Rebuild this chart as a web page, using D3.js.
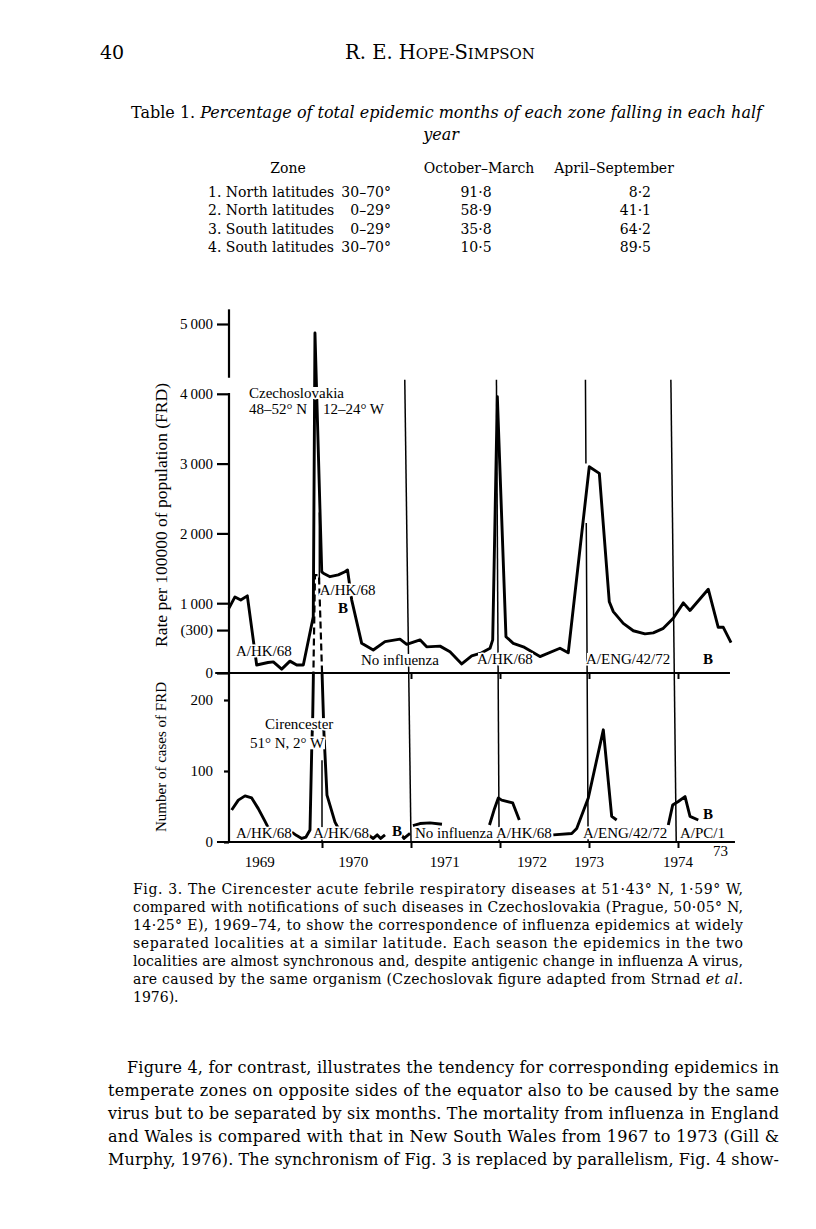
<!DOCTYPE html>
<html>
<head>
<meta charset="utf-8">
<script src="https://cdn.jsdelivr.net/npm/d3@7"></script>
<style>
body { margin: 0; background: #fff; }
svg text { fill: #000; }
.pg { font-family: "DejaVu Serif", serif; }
.ch { font-family: "Liberation Serif", "Times New Roman", serif; }
.halo { paint-order: stroke; stroke: #fff; stroke-width: 3px; stroke-linejoin: round; }
</style>
</head>
<body>
<div id="page"></div>
<script>
// ---- data ----
// Czechoslovakia, rate per 100000 (time in years)
var czechTime = [1968.955,1969.022,1969.087,1969.161,1969.266,1969.393,1969.453,1969.547,1969.640,1969.716,
	1969.790,1969.902,1969.921,1969.997,1970.015,1970.090,1970.183,1970.258,1970.287,1970.334,
	1970.446,1970.576,1970.708,1970.876,1970.952,1971.101,1971.176,1971.326,1971.438,1971.570,
	1971.682,1971.794,1971.888,1971.918,1971.970,1972.067,1972.149,1972.262,1972.449,1972.674,
	1972.767,1973.003,1973.116,1973.228,1973.273,1973.385,1973.498,1973.629,1973.722,1973.835,
	1973.947,1974.060,1974.135,1974.340,1974.452,1974.509,1974.596]
var czechRate = [930,1090,1045,1105,115,150,160,55,170,115,
	115,805,4870,1450,1430,1380,1405,1450,1475,1045,
	425,330,450,485,410,475,375,385,305,130,
	245,290,355,475,3960,520,425,375,235,355,
	290,2955,2860,1020,880,710,605,560,575,640,
	785,1005,895,1200,655,655,435]

// Cirencester, number of cases (null = break in the drawn line)
var cirTime = [1968.985,1969.060,1969.135,1969.210,1969.284,1969.360,1969.404,null,
	1969.660,1969.716,1969.772,1969.820,1969.865,1969.884,1969.896,1969.921,1969.966,1970.022,1970.056,1970.146,1970.180,null,
	1970.520,1970.576,1970.621,1970.660,1970.708,null,
	1970.884,1970.921,1970.989,null,
	1971.022,1971.101,1971.213,1971.348,null,
	1971.882,1971.933,1971.981,1972.019,1972.143,1972.217,null,
	1972.599,1972.806,1972.862,1972.992,1973.161,1973.255,1973.311,null,
	1973.891,1973.940,1974.003,1974.079,1974.135,1974.228]
var cirCases = [45,59,65,62,47,29,18,null,
	14,9,5,7,17,127,179,376,376,153,66,28,20,null,
	10,5,10,5,10,null,
	12,5,12,null,
	23,26,27,25,null,
	24,45,62,59,55,31,null,
	10,12,19,62,158,36,31,null,
	24,52,57,64,36,31]

var topTicks = [0, 615, 1000, 2000, 3000, 4000, 5000]
var topTickLabels = ['0', '(300)', '1\u2009000', '2\u2009000', '3\u2009000', '4\u2009000', '5\u2009000']
var botTicks = [0, 100, 200]
var yearTicks = [1970, 1971, 1972, 1973, 1974]
var yearLabels = ['1969', '1970', '1971', '1972', '1973', '1974']
var yearLabelAt = [1969.30, 1970.35, 1971.38, 1972.36, 1973.0, 1974.0]

// epidemic marker lines: time at top / at bottom
var refTop = [1970.93, 1971.96, 1972.96, 1973.92]
var refBottom = [1971.0, 1971.99, 1972.99, 1973.98]

var topNoteText = ['Czechoslovakia', '48\u201352\u00b0 N', '12\u201324\u00b0 W', 'A/HK/68', 'B', 'A/HK/68', 'No influenza', 'A/HK/68', 'A/ENG/42/72', 'B']
var topNoteTime = [1969.18, 1969.18, 1970.01, 1969.975, 1970.18, 1969.034, 1970.438, 1971.742, 1972.966, 1974.28]
var topNoteRate = [3940, 3710, 3710, 1120, 860, 245, 115, 130, 130, 130]

var botNoteText = ['Cirencester', '51\u00b0 N, 2\u00b0 W', 'A/HK/68', 'A/HK/68', 'B', 'No influenza', 'A/HK/68', 'A/ENG/42/72', 'A/PC/1', 'B', '73']
var botNoteTime = [1969.36, 1969.19, 1969.034, 1969.90, 1970.787, 1971.045, 1971.955, 1972.933, 1974.022, 1974.28, 1974.393]
var botNoteCases = [159, 132, 5.5, 5.5, 8.5, 5.5, 5.5, 5.5, 5.5, 32, -20]

var zones = ['North latitudes', 'North latitudes', 'South latitudes', 'South latitudes']
var zoneRange = ['30\u201370\u00b0', '0\u201329\u00b0', '0\u201329\u00b0', '30\u201370\u00b0']
var octMar = [91.8, 58.9, 35.8, 10.5]
var aprSep = [8.2, 41.1, 64.2, 89.5]

var captionLines = [
	'Fig. 3. The Cirencester acute febrile respiratory diseases at 51\u00b743\u00b0 N, 1\u00b759\u00b0 W,',
	'compared with notifications of such diseases in Czechoslovakia (Prague, 50\u00b705\u00b0 N,',
	'14\u00b725\u00b0 E), 1969\u201374, to show the correspondence of influenza epidemics at widely',
	'separated localities at a similar latitude. Each season the epidemics in the two',
	'localities are almost synchronous and, despite antigenic change in influenza A virus,',
	'are caused by the same organism (Czechoslovak figure adapted from Strnad *et al.*',
	'1976).'
]
var bodyLines = [
	'Figure 4, for contrast, illustrates the tendency for corresponding epidemics in',
	'temperate zones on opposite sides of the equator also to be caused by the same',
	'virus but to be separated by six months. The mortality from influenza in England',
	'and Wales is compared with that in New South Wales from 1967 to 1973 (Gill &',
	'Murphy, 1976). The synchronism of Fig. 3 is replaced by parallelism, Fig. 4 show-'
]

var width = 816
var height = 1229

var svg = d3.select('#page')
	.append('svg')
	.attr('width', width)
	.attr('height', height)
	.attr('viewBox', [0, 0, width, height])

// one line of page text, '*' toggles italic
function addLine(s, x0, y0, size, len, anchor) {
	var t = svg.append('text')
		.attr('class', 'pg')
		.attr('x', x0)
		.attr('y', y0)
		.style('font-size', size + 'px')
	if (len) t.attr('textLength', len).attr('lengthAdjust', 'spacing')
	if (anchor) t.attr('text-anchor', anchor)
	s.split('*').forEach(function(part, i) {
		if (!part) return
		t.append('tspan').style('font-style', i % 2 ? 'italic' : 'normal').text(part)
	})
	return t
}

// ---- running head ----
addLine('40', 100, 59, 19)
var head = svg.append('text')
	.attr('class', 'pg')
	.attr('x', 440)
	.attr('y', 59)
	.attr('text-anchor', 'middle')
;[['R. E. H', 19.5], ['OPE-', 15], ['S', 19.5], ['IMPSON', 15]].forEach(function(p) {
	head.append('tspan').style('font-size', p[1] + 'px').text(p[0])
})

// ---- table 1 ----
addLine('Table 1. *Percentage of total epidemic months of each zone falling in each half*', 131, 118, 16, 631)
addLine('*year*', 441, 140, 16, null, 'middle')
addLine('Zone', 288, 173, 14, null, 'middle')
addLine('October\u2013March', 479, 173, 14, null, 'middle')
addLine('April\u2013September', 614, 173, 14, null, 'middle')

var fmt = function(v) { return d3.format('.1f')(v).replace('.', '\u00b7') }
var rowY = d3.scalePoint().domain(d3.range(zones.length)).range([197, 252])
zones.forEach(function(z, i) {
	addLine((i + 1) + '. ' + z, 208, rowY(i), 14)
	addLine(zoneRange[i], 391, rowY(i), 14, null, 'end')
	addLine(fmt(octMar[i]), 476, rowY(i), 14, null, 'middle')
	addLine(fmt(aprSep[i]), 651, rowY(i), 14, null, 'end')
})

// ---- figure ----
var x = d3.scaleLinear().domain([1970, 1974]).range([322, 678])
var yTop = d3.scaleLinear().domain([0, 5000]).range([673, 324])
var yBot = d3.scaleLinear().domain([0, 200]).range([842, 700])
var ink = '#000'

var fig = svg.append('g')

// marker lines first, the curves go over them
refTop.forEach(function(t, i) {
	var x1 = x(t), y1 = yTop(4200), x2 = x(refBottom[i]), y2 = yBot(0)
	var ln = fig.append('line')
		.attr('x1', x1).attr('y1', y1).attr('x2', x2).attr('y2', y2)
		.style('stroke', ink).style('stroke-width', 1.5)
	if (t > 1972.5 && t < 1973.5) {
		// gap where the 1973 curve rises
		var L = Math.hypot(x2 - x1, y2 - y1)
		var a = yTop(3000) - y1, b = yTop(2150) - y1
		ln.attr('stroke-dasharray', a + ',' + (b - a) + ',' + L)
	}
})
// the short marker pieces at the 1969/70 peak
fig.append('line')
	.attr('x1', x(1969.97)).attr('x2', x(1969.97))
	.attr('y1', yTop(2300)).attr('y2', yTop(1330))
	.style('stroke', ink).style('stroke-width', 1.5)
fig.append('line')
	.attr('x1', x(1970.0)).attr('x2', x(1970.0))
	.attr('y1', yBot(115)).attr('y2', yBot(0))
	.style('stroke', ink).style('stroke-width', 1.5)

// axes
fig.append('line')
	.attr('x1', 229).attr('x2', 229)
	.attr('y1', yTop(5210)).attr('y2', yTop(4230))
	.style('stroke', ink).style('stroke-width', 2.2)
fig.append('line')
	.attr('x1', 229).attr('x2', 229)
	.attr('y1', yTop(4010)).attr('y2', yBot(0))
	.style('stroke', ink).style('stroke-width', 2.2)

var axTop = fig.append('g')
	.attr('transform', 'translate(229,0)')
	.call(d3.axisLeft(yTop).tickValues(topTicks).tickSize(12).tickPadding(4)
		.tickFormat(function(d, i) { return topTickLabels[i] }))
var axBot = fig.append('g')
	.attr('transform', 'translate(229,0)')
	.call(d3.axisLeft(yBot).tickValues(botTicks).tickSize(5).tickPadding(11))
;[axTop, axBot].forEach(function(a) {
	a.select('.domain').remove()
	a.selectAll('line').style('stroke', ink).style('stroke-width', 2.2)
	a.selectAll('text').attr('class', 'ch').style('font-size', '15px').style('fill', '#000')
})

// baselines
fig.append('line')
	.attr('x1', x(1968.8)).attr('x2', x(1974.584))
	.attr('y1', yTop(0)).attr('y2', yTop(0))
	.style('stroke', ink).style('stroke-width', 2.2)
fig.append('line')
	.attr('x1', x(1968.82)).attr('x2', x(1974.64))
	.attr('y1', yBot(0)).attr('y2', yBot(0))
	.style('stroke', ink).style('stroke-width', 2.2)

var axX1 = fig.append('g')
	.attr('transform', 'translate(0,' + yTop(0) + ')')
	.call(d3.axisBottom(x).tickValues(yearTicks.slice(1)).tickSize(6).tickFormat(''))
var axX2 = fig.append('g')
	.attr('transform', 'translate(0,' + yBot(0) + ')')
	.call(d3.axisBottom(x).tickValues(yearTicks).tickSize(6).tickFormat(''))
;[axX1, axX2].forEach(function(a) {
	a.select('.domain').remove()
	a.selectAll('line').style('stroke', ink).style('stroke-width', 2)
})

fig.selectAll('.yearlab')
	.data(yearLabels)
	.enter()
	.append('text')
	.attr('class', 'ch yearlab')
	.attr('x', function(d, i) { return x(yearLabelAt[i]) })
	.attr('y', 867)
	.attr('text-anchor', 'middle')
	.style('font-size', '15px')
	.text(function(d) { return d })

// curves
var czech = czechTime.map(function(t, i) { return [t, czechRate[i]] })
var cir = cirTime.map(function(t, i) { return [t, cirCases[i]] })

fig.append('path')
	.datum(czech)
	.attr('d', d3.line().x(function(d) { return x(d[0]) }).y(function(d) { return yTop(d[1]) }))
	.style('fill', 'none').style('stroke', ink).style('stroke-width', 2.9)
	.style('stroke-linejoin', 'round')

var defs = svg.append('defs')
defs.append('clipPath').attr('id', 'lowPanel')
	.append('rect').attr('x', 0).attr('y', yTop(0)).attr('width', width).attr('height', 300)
defs.append('clipPath').attr('id', 'highPanel')
	.append('rect').attr('x', 0).attr('y', 0).attr('width', width).attr('height', yTop(0))

var cirLine = d3.line()
	.defined(function(d) { return d[1] != null })
	.x(function(d) { return x(d[0]) })
	.y(function(d) { return yBot(d[1]) })

fig.append('path')
	.datum(cir)
	.attr('d', cirLine)
	.attr('clip-path', 'url(#lowPanel)')
	.style('fill', 'none').style('stroke', ink).style('stroke-width', 2.9)
	.style('stroke-linejoin', 'round')
// off the scale: carried on dashed into the upper panel
fig.append('path')
	.datum(cir)
	.attr('d', cirLine)
	.attr('clip-path', 'url(#highPanel)')
	.style('fill', 'none').style('stroke', ink).style('stroke-width', 2.2)
	.style('stroke-dasharray', '7,4')

// annotations: lettering is pasted over the lines, so blank a tight box behind it
function notes(txt, tm, val, ys) {
	txt.forEach(function(s, i) {
		var g = fig.append('g')
		var bg = g.append('rect').style('fill', '#fff')
		var t = g.append('text')
			.attr('class', 'ch halo')
			.attr('x', x(tm[i]))
			.attr('y', ys(val[i]))
			.style('font-size', '15px')
			.style('font-weight', s === 'B' ? 'bold' : 'normal')
			.text(s)
		var bb = t.node().getBBox()
		bg.attr('x', bb.x + 1).attr('width', bb.width - 1)
			.attr('y', ys(val[i]) - 11).attr('height', 12)
	})
}
notes(topNoteText, topNoteTime, topNoteRate, yTop)
notes(botNoteText, botNoteTime, botNoteCases, yBot)

// axis titles
fig.append('text')
	.attr('class', 'ch')
	.attr('transform', 'translate(167,515) rotate(-90)')
	.attr('text-anchor', 'middle')
	.style('font-size', '17.5px')
	.text('Rate per 100000 of population (FRD)')
fig.append('text')
	.attr('class', 'ch')
	.attr('transform', 'translate(166,757) rotate(-90)')
	.attr('text-anchor', 'middle')
	.style('font-size', '15px')
	.text('Number of cases of FRD')

// ---- caption and text ----
captionLines.forEach(function(s, i) {
	addLine(s, 133, 894 + i * 18, 14, i < captionLines.length - 1 ? 610 : null)
})
bodyLines.forEach(function(s, i) {
	addLine(s, i === 0 ? 127 : 108, 1073 + i * 23, 16, i === 0 ? 652 : 671)
})
</script>
</body>
</html>
